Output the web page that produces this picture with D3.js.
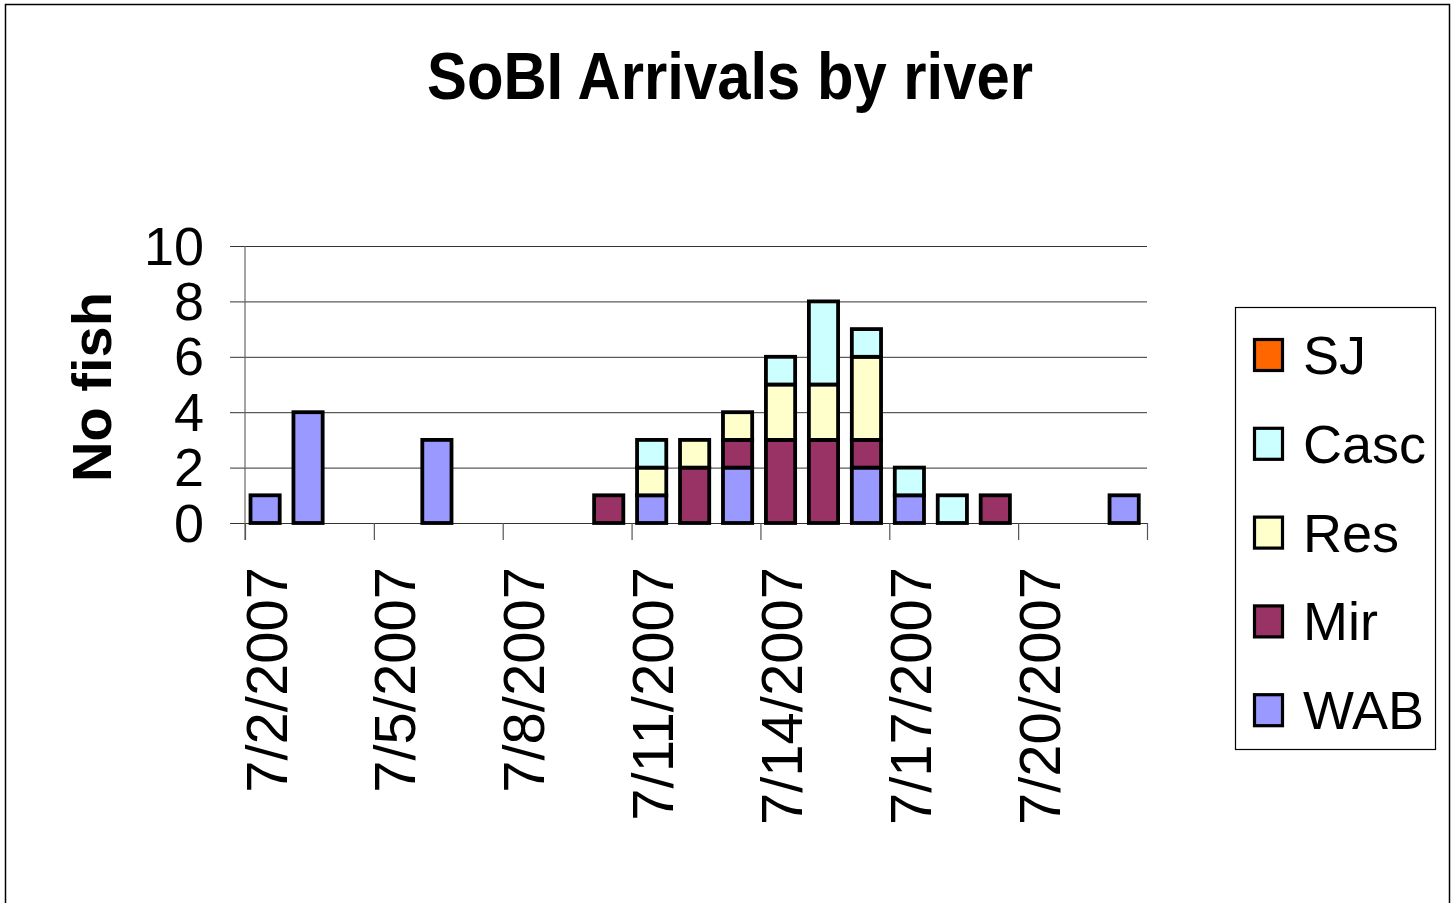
<!DOCTYPE html>
<html>
<head>
<meta charset="utf-8">
<script src="https://cdn.jsdelivr.net/npm/d3@7"></script>
<style>
  html, body { margin: 0; padding: 0; background: #fff; }
  svg { display: block; }
  text { font-family: "Liberation Sans", Arial, sans-serif; fill: #000; }
</style>
</head>
<body>
<svg id="chart" width="1456" height="903"></svg>
<script>
// Daily arrival counts per river, 2 July to 22 July 2007
const dates = ["7/2/2007","7/3/2007","7/4/2007","7/5/2007","7/6/2007","7/7/2007","7/8/2007",
               "7/9/2007","7/10/2007","7/11/2007","7/12/2007","7/13/2007","7/14/2007","7/15/2007",
               "7/16/2007","7/17/2007","7/18/2007","7/19/2007","7/20/2007","7/21/2007","7/22/2007"];
const WAB  = [1,4,0,0,3,0,0,0,0,1,0,2,0,0,2,1,0,0,0,0,1];
const Mir  = [0,0,0,0,0,0,0,0,1,0,2,1,3,3,1,0,0,1,0,0,0];
const Res  = [0,0,0,0,0,0,0,0,0,1,1,1,2,2,3,0,0,0,0,0,0];
const Casc = [0,0,0,0,0,0,0,0,0,1,0,0,1,3,1,1,1,0,0,0,0];
const SJ   = [0,0,0,0,0,0,0,0,0,0,0,0,0,0,0,0,0,0,0,0,0];

// stacking order bottom to top; legend lists them top to bottom (reversed)
const seriesNames = ["WAB","Mir","Res","Casc","SJ"];
const seriesColors = ["#9999FF","#993366","#FFFFCC","#CCFFFF","#FF6600"];
const yTicks = [0,2,4,6,8,10];
const xTickDates = ["7/2/2007","7/5/2007","7/8/2007","7/11/2007","7/14/2007","7/17/2007","7/20/2007","7/23/2007"];
const xTickLabels = ["7/2/2007","7/5/2007","7/8/2007","7/11/2007","7/14/2007","7/17/2007","7/20/2007",""];

const parse = d3.timeParse("%m/%d/%Y");
const seriesData = {WAB, Mir, Res, Casc, SJ};
const rows = dates.map((d, i) => {
  const r = {date: parse(d)};
  seriesNames.forEach(k => r[k] = seriesData[k][i]);
  return r;
});

const svg = d3.select("#chart");

// chart frame
svg.append("rect")
  .attr("x", 5.5).attr("y", 4.5).attr("width", 1444).attr("height", 920)
  .attr("fill", "#fff").attr("stroke", "#000").attr("stroke-width", 1.5);

const plot = {left: 245, right: 1147, top: 246, bottom: 523};

const x = d3.scaleTime()
  .domain([parse("7/2/2007"), parse("7/23/2007")])
  .range([plot.left, plot.right]);
const y = d3.scaleLinear().domain([0, 10]).range([plot.bottom, plot.top]);

// horizontal gridlines + y tick labels
const yAxis = d3.axisLeft(y)
  .tickValues(yTicks)
  .tickSize(-(plot.right - 230))
  .tickPadding(26)
  .tickFormat(d3.format("d"));
const gy = svg.append("g").attr("transform", "translate(230,0)").call(yAxis);
gy.select(".domain").remove();
gy.selectAll(".tick line").attr("stroke", "#333").attr("stroke-width", 1);
gy.selectAll(".tick text")
  .attr("font-size", 54).attr("dy", null).attr("y", 18)
  .style("font-family", '"Liberation Sans", Arial, sans-serif').attr("fill", "#000");

// vertical axis line
svg.append("line")
  .attr("x1", plot.left).attr("x2", plot.left)
  .attr("y1", plot.top).attr("y2", 540)
  .attr("stroke", "#666").attr("stroke-width", 1.2);

// x axis ticks
const xAxis = d3.axisBottom(x)
  .tickValues(xTickDates.map(parse))
  .tickSize(17)
  .tickFormat((d, i) => xTickLabels[i]);
const gx = svg.append("g").attr("transform", `translate(0,${plot.bottom})`).call(xAxis);
gx.select(".domain").remove();
gx.selectAll(".tick line").attr("stroke", "#555").attr("stroke-width", 1.2);
gx.selectAll(".tick text")
  .attr("font-size", 58)
  .attr("text-anchor", "end")
  .attr("transform", "translate(41,44) rotate(-90)")
  .attr("x", 0).attr("y", 0).attr("dy", null)
  .style("font-family", '"Liberation Sans", Arial, sans-serif').attr("fill", "#000");

// stacked bars
const stack = d3.stack().keys(seriesNames)(rows);
const dayW = x(parse("7/3/2007")) - x(parse("7/2/2007"));
const barOff = dayW * 0.128, barW = dayW * 0.68;

const layers = svg.append("g").selectAll("g")
  .data(stack).join("g")
  .attr("fill", (d, i) => seriesColors[i]);
layers.selectAll("rect")
  .data(d => d.filter(s => s[1] - s[0] > 0))
  .join("rect")
  .attr("x", d => x(d.data.date) + barOff)
  .attr("width", barW)
  .attr("y", d => y(d[1]))
  .attr("height", d => y(d[0]) - y(d[1]))
  .attr("stroke", "#000")
  .attr("stroke-width", 3.8);

// title
svg.append("text")
  .attr("x", 730).attr("y", 99)
  .attr("text-anchor", "middle")
  .attr("font-size", 66).attr("font-weight", "bold")
  .attr("textLength", 606).attr("lengthAdjust", "spacingAndGlyphs")
  .text("SoBI Arrivals by river");

// y axis title
svg.append("text")
  .attr("transform", "translate(111,387) rotate(-90)")
  .attr("text-anchor", "middle")
  .attr("font-size", 56).attr("font-weight", "bold")
  .text("No fish");

// legend
const legend = svg.append("g");
legend.append("rect")
  .attr("x", 1235.5).attr("y", 307.5).attr("width", 200).attr("height", 442)
  .attr("fill", "#fff").attr("stroke", "#000").attr("stroke-width", 1.2);
const legendOrder = seriesNames.map((n, i) => ({name: n, color: seriesColors[i]})).reverse();
const item = legend.selectAll("g.item")
  .data(legendOrder).join("g")
  .attr("class", "item")
  .attr("transform", (d, i) => `translate(0,${355 + i * 88.8})`);
item.append("rect")
  .attr("x", 1254.5).attr("y", -15.5).attr("width", 28).attr("height", 31)
  .attr("fill", d => d.color).attr("stroke", "#000").attr("stroke-width", 3.2);
item.append("text")
  .attr("x", 1303).attr("y", 19)
  .attr("font-size", 54)
  .text(d => d.name);
</script>
</body>
</html>
